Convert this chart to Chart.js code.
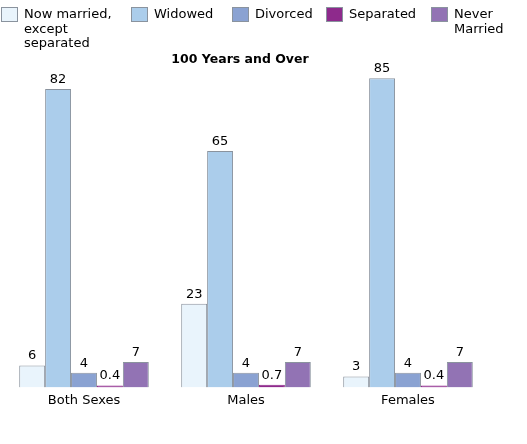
<!DOCTYPE html>
<html>
<head>
<meta charset="utf-8">
<script src="https://cdn.jsdelivr.net/npm/chart.js@4/dist/chart.umd.min.js"></script>
<style>
html,body{margin:0;padding:0;background:#fff;}
#wrap{position:relative;width:527px;height:444px;}
</style>
</head>
<body>
<div id="wrap"><canvas id="c" width="527" height="444"></canvas></div>
<script>
const categories = ["Both Sexes", "Males", "Females"];
const seriesNames = [["Now married,", "except", "separated"], ["Widowed"], ["Divorced"], ["Separated"], ["Never", "Married"]];
const nowMarried = [6, 23, 3];
const widowed = [82, 65, 85];
const divorced = [4, 4, 4];
const separated = [0.4, 0.7, 0.4];
const neverMarried = [7, 7, 7];
const titleText = "100 Years and Over";

const colors = ["#e9f4fc", "#abcdeb", "#8aa2d2", "#8e2a8c", "#9273b4"];
const borderCol = "#8a939e";
const barBorders = [borderCol, borderCol, borderCol, "#8e2a8c", borderCol];
const seriesValues = [nowMarried, widowed, divorced, separated, neverMarried];

const legendX = [1, 131, 232, 326, 431];

const customPlugin = {
  id: "custom",
  afterDatasetsDraw(chart) {
    const ctx = chart.ctx;
    ctx.save();
    ctx.fillStyle = "#000";
    ctx.font = "13px 'DejaVu Sans'";
    ctx.textAlign = "center";
    ctx.textBaseline = "bottom";
    chart.data.datasets.forEach((ds, i) => {
      const meta = chart.getDatasetMeta(i);
      meta.data.forEach((bar, j) => {
        ctx.fillText(String(ds.data[j]), bar.x, bar.y - 3);
      });
    });
    // title
    ctx.font = "bold 12.5px 'DejaVu Sans'";
    ctx.textBaseline = "middle";
    ctx.fillText(titleText, 240, 60);
    // legend
    ctx.textAlign = "left";
    ctx.font = "13px 'DejaVu Sans'";
    seriesNames.forEach((lines, i) => {
      const x = legendX[i];
      ctx.fillStyle = colors[i];
      ctx.fillRect(x + 0.5, 7.5, 16, 14);
      ctx.strokeStyle = borderCol;
      ctx.lineWidth = 1;
      ctx.strokeRect(x + 0.5, 7.5, 16, 14);
      ctx.fillStyle = "#000";
      lines.forEach((t, k) => {
        ctx.fillText(t, x + 23, 15 + k * 14.5);
      });
    });
    ctx.restore();
  }
};

new Chart(document.getElementById("c"), {
  type: "bar",
  data: {
    labels: categories,
    datasets: seriesValues.map((vals, i) => ({
      label: seriesNames[i].join(" "),
      data: vals,
      backgroundColor: colors[i],
      borderColor: barBorders[i],
      borderWidth: 1,
      borderSkipped: "start",
      minBarLength: 2,
      categoryPercentage: 0.8,
      barPercentage: 1.0
    }))
  },
  options: {
    responsive: false,
    animation: false,
    devicePixelRatio: 1,
    layout: { padding: { left: 3, right: 38, top: 23.6, bottom: 31 } },
    plugins: {
      legend: { display: false },
      title: { display: false },
      tooltip: { enabled: false }
    },
    scales: {
      x: {
        grid: { display: false, drawTicks: false },
        border: { display: false },
        ticks: { color: "#000", font: { family: "DejaVu Sans", size: 13 }, padding: 5 }
      },
      y: {
        display: false,
        min: 0,
        max: 100
      }
    }
  },
  plugins: [customPlugin]
});
</script>
</body>
</html>
